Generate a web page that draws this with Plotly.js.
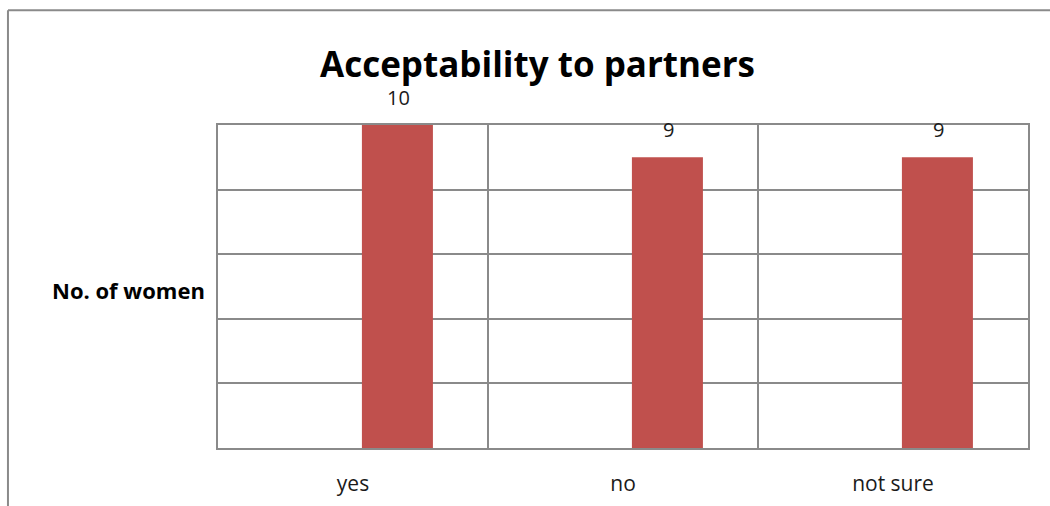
<!DOCTYPE html>
<html>
<head>
<meta charset="utf-8">
<script src="https://cdn.plot.ly/plotly-3.0.1.min.js"></script>
<style>html,body{margin:0;padding:0;background:#fff;}#chart{width:1050px;height:506px;}</style>
</head>
<body>
<div id="chart"></div>
<script>
const categories = ["yes", "no", "not sure"];
const values = [10, 9, 9];
const valueLabels = ["10", "9", "9"];
const chartTitle = "Acceptability to partners";
const yTitle = "No. of women";

const FONT = "Open Sans, Liberation Sans, sans-serif";
const GRID = "#8a8a8a";

const trace = {
  type: "bar",
  x: categories,
  y: values,
  marker: {color: "#C0504D", line: {width: 0}},
  width: 0.263,
  offset: 0.033,
  hoverinfo: "none"
};

const annotations = categories.map((c, i) => ({
  x: c, y: values[i], xref: "x", yref: "y",
  text: valueLabels[i], showarrow: false,
  yanchor: "bottom", xanchor: "center",
  xshift: 45, yshift: 12,
  font: {family: FONT, size: 20, color: "#1a1a1a"}
}));
annotations.push({
  xref: "paper", yref: "paper", x: -0.11, y: 0.49,
  xanchor: "center", yanchor: "middle", showarrow: false,
  text: "<b>" + yTitle + "</b>",
  font: {family: FONT, size: 22, color: "#000"}
});
annotations.push({
  xref: "paper", yref: "paper", x: 0.394, y: 1.19,
  xanchor: "center", yanchor: "middle", showarrow: false,
  text: "<b>" + chartTitle + "</b>",
  font: {family: FONT, size: 35, color: "#000"}
});

const layout = {
  width: 1050, height: 506,
  margin: {l: 218, r: 22, t: 125, b: 58},
  paper_bgcolor: "#fff", plot_bgcolor: "#fff",
  showlegend: false,
  xaxis: {
    type: "category",
    tickson: "boundaries",
    showgrid: true, gridcolor: GRID, gridwidth: 2,
    showline: true, linecolor: GRID, linewidth: 2, mirror: true,
    ticks: "", ticklabelstandoff: 16,
    tickfont: {family: FONT, size: 21, color: "#1a1a1a"},
    zeroline: false, fixedrange: true
  },
  yaxis: {
    range: [0, 10], dtick: 2,
    showgrid: true, gridcolor: GRID, gridwidth: 2,
    showline: true, linecolor: GRID, linewidth: 2, mirror: true,
    showticklabels: false, ticks: "",
    zeroline: false, fixedrange: true
  },
  annotations: annotations,
  shapes: [
    {type: "line", xref: "paper", yref: "paper", x0: -0.2593, x1: 1.05, y0: 1.355, y1: 1.355, line: {color: GRID, width: 2}},
    {type: "line", xref: "paper", yref: "paper", x0: -0.2593, x1: -0.2593, y0: 1.355, y1: -0.2, line: {color: GRID, width: 2}}
  ]
};

Plotly.newPlot("chart", [trace], layout, {displayModeBar: false, staticPlot: true});
</script>
</body>
</html>
